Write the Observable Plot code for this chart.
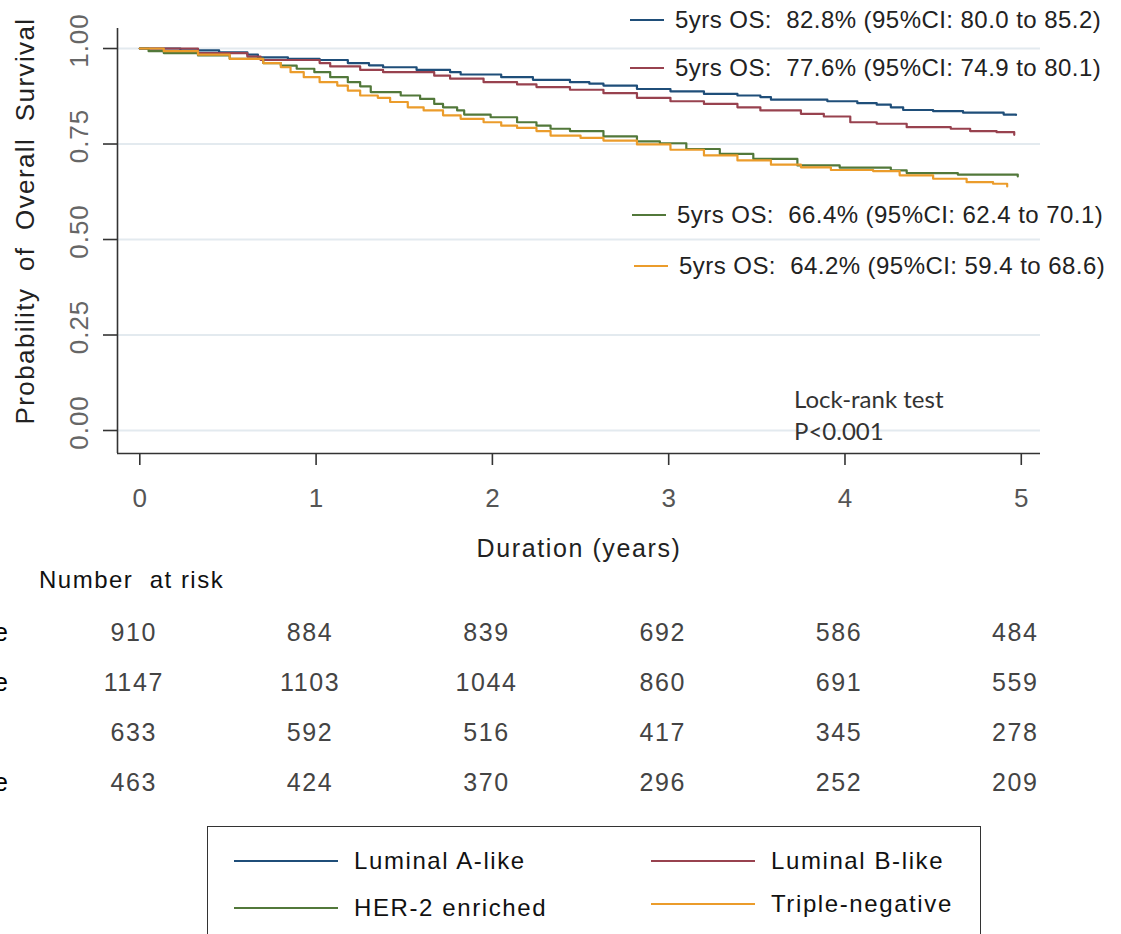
<!DOCTYPE html>
<html>
<head>
<meta charset="utf-8">
<script src="https://cdn.jsdelivr.net/npm/d3@7"></script>
<script src="https://cdn.jsdelivr.net/npm/@observablehq/plot@0.6"></script>
<style>
  html, body { margin: 0; padding: 0; background: #fff; }
  #root { position: relative; width: 1121px; height: 934px; overflow: hidden; background: #fff;
          font-family: "Liberation Sans", Arial, sans-serif; }
  #main, #risk { position: absolute; left: 0; }
  #main { top: 0; }
  #risk { top: 600px; }
  .annot { position: absolute; display: flex; align-items: center; height: 30px;
           font-size: 24px; color: #222; letter-spacing: 0.45px; white-space: pre; }
  .annot .sw { display: inline-block; width: 34px; height: 2px; margin-right: 11px; }
  #lockrank { position: absolute; left: 794px; top: 383px; font-family: Lato, "Open Sans", sans-serif;
              font-size: 24px; line-height: 32px; color: #333; }
  #nrisk { position: absolute; left: 39px; top: 566px; font-size: 24px; letter-spacing: 1.5px;
           color: #111; white-space: pre; }
  #legend { position: absolute; left: 207px; top: 826px; width: 772px; height: 140px;
            border: 1.5px solid #333; background: #fff; }
  .lg { position: absolute; display: flex; align-items: center; height: 30px; font-size: 24px;
        letter-spacing: 1.6px; color: #111; white-space: pre; }
  .lg .sw { display: inline-block; width: 104px; height: 2.5px; margin-right: 16px; }
</style>
</head>
<body>
<div id="root">
  <div id="main"></div>
  <div id="risk"></div>
  <div id="nrisk"></div>
  <div id="lockrank"></div>
  <div id="legend"></div>
</div>
<script>
// ---------------- data ----------------
const groups = ["Luminal A-like", "Luminal B-like", "HER-2 enriched", "Triple-negative"];
const colors = ["#1f4e79", "#98424f", "#52783a", "#eb9c2b"];

// Kaplan-Meier estimates (time in years, survival probability)
const lumA_t = [0, 0.23, 0.45, 0.61, 0.67, 0.84, 1.02, 1.18, 1.30, 1.38, 1.57, 1.76, 1.82, 2.05, 2.23, 2.44, 2.55, 2.63, 2.82, 3.01, 3.20, 3.39, 3.52, 3.58, 3.90, 4.07, 4.18, 4.26, 4.33, 4.50, 4.67, 4.90, 4.97];
const lumA_s = [1.000, 0.995, 0.990, 0.984, 0.977, 0.973, 0.970, 0.962, 0.956, 0.951, 0.944, 0.938, 0.932, 0.925, 0.918, 0.912, 0.908, 0.903, 0.894, 0.888, 0.881, 0.877, 0.873, 0.866, 0.862, 0.857, 0.853, 0.846, 0.839, 0.836, 0.832, 0.827, 0.826];

const lumB_t = [0, 0.33, 0.61, 0.685, 1.02, 1.08, 1.25, 1.38, 1.67, 1.76, 1.95, 2.14, 2.25, 2.44, 2.63, 2.82, 3.01, 3.20, 3.39, 3.52, 3.75, 3.88, 4.03, 4.18, 4.35, 4.60, 4.71, 4.86, 4.96];
const lumB_s = [1.000, 0.988, 0.979, 0.970, 0.962, 0.953, 0.944, 0.938, 0.929, 0.921, 0.912, 0.906, 0.899, 0.892, 0.883, 0.871, 0.862, 0.855, 0.846, 0.838, 0.829, 0.822, 0.807, 0.803, 0.794, 0.790, 0.784, 0.781, 0.774];

const her2_t = [0, 0.05, 0.136, 0.33, 0.51, 0.70, 0.80, 0.89, 0.99, 1.08, 1.18, 1.25, 1.31, 1.48, 1.59, 1.67, 1.72, 1.80, 1.84, 1.99, 2.14, 2.25, 2.33, 2.44, 2.63, 2.82, 2.95, 3.10, 3.29, 3.48, 3.73, 3.97, 4.26, 4.35, 4.64, 4.98];
const her2_s = [1.000, 0.993, 0.988, 0.982, 0.973, 0.962, 0.955, 0.947, 0.938, 0.925, 0.912, 0.901, 0.886, 0.877, 0.868, 0.855, 0.846, 0.838, 0.827, 0.820, 0.807, 0.798, 0.790, 0.784, 0.770, 0.757, 0.752, 0.737, 0.724, 0.711, 0.694, 0.688, 0.681, 0.674, 0.670, 0.665];

const tneg_t = [0, 0.136, 0.33, 0.51, 0.70, 0.80, 0.855, 0.93, 1.02, 1.12, 1.18, 1.25, 1.35, 1.42, 1.52, 1.61, 1.72, 1.82, 1.95, 2.05, 2.14, 2.25, 2.33, 2.50, 2.63, 2.82, 3.01, 3.20, 3.39, 3.58, 3.75, 3.92, 4.16, 4.31, 4.50, 4.69, 4.84, 4.92];
const tneg_s = [1.000, 0.993, 0.984, 0.973, 0.962, 0.951, 0.938, 0.925, 0.912, 0.903, 0.890, 0.877, 0.871, 0.860, 0.846, 0.838, 0.825, 0.816, 0.807, 0.798, 0.792, 0.784, 0.772, 0.766, 0.759, 0.749, 0.735, 0.720, 0.707, 0.696, 0.689, 0.682, 0.679, 0.668, 0.659, 0.650, 0.646, 0.639];

// Number at risk
const riskTimes = [0, 1, 2, 3, 4, 5];
const riskLumA = [910, 884, 839, 692, 586, 484];
const riskLumB = [1147, 1103, 1044, 860, 691, 559];
const riskHer2 = [633, 592, 516, 417, 345, 278];
const riskTneg = [463, 424, 370, 296, 252, 209];

// 5-year OS annotations
const os5 = [82.8, 77.6, 66.4, 64.2];
const ciLow = [80.0, 74.9, 62.4, 59.4];
const ciHigh = [85.2, 80.1, 70.1, 68.6];

// axes
const xTicks = [0, 1, 2, 3, 4, 5];
const yTicks = [0, 0.25, 0.5, 0.75, 1];
const xTitle = "Duration (years)";
const yTitle = "Probability of Overall Survival";
const testLines = ["Lock-rank test", "P<0.001"];
const riskTitle = "Number  at risk";

// ---------------- build tables ----------------
const seriesT = [lumA_t, lumB_t, her2_t, tneg_t];
const seriesS = [lumA_s, lumB_s, her2_s, tneg_s];
const km = [];
groups.forEach((g, i) => seriesT[i].forEach((t, j) => km.push({group: g, t, s: seriesS[i][j]})));

const riskRows = [riskLumA, riskLumB, riskHer2, riskTneg];
const risk = [];
groups.forEach((g, i) => riskTimes.forEach((t, j) => risk.push({group: g, t, n: riskRows[i][j]})));

const xDomain = [-0.1265, 5.109];
const yDomain = [-0.0602, 1.0524];
const font = "'Liberation Sans', Arial, sans-serif";

// ---------------- main plot ----------------
const main = Plot.plot({
  width: 1121, height: 560,
  marginLeft: 117, marginRight: 81, marginTop: 28, marginBottom: 107,
  x: {domain: xDomain},
  y: {domain: yDomain},
  color: {domain: groups, range: colors},
  style: {fontFamily: font, background: "transparent", overflow: "visible"},
  marks: [
    Plot.ruleY(yTicks, {stroke: "#e3eaef", strokeWidth: 2}),
    Plot.line(km, {x: "t", y: "s", z: "group", stroke: "group", curve: "step-after", strokeWidth: 2.2}),
    Plot.ruleX([xDomain[0]], {stroke: "#333", strokeWidth: 1.6}),
    Plot.ruleY([yDomain[0]], {stroke: "#333", strokeWidth: 1.6}),
    Plot.axisX({ticks: xTicks, tickFormat: "d", tickSize: 12, tickPadding: 23, fontSize: 26, fill: "#555",
                stroke: "#333", strokeWidth: 1.6, label: null}),
    Plot.axisY({ticks: yTicks, tickSize: 14, tickFormat: () => "", stroke: "#333", strokeWidth: 1.6, label: null}),
    Plot.text(yTicks, {x: xDomain[0], y: d => d, text: d => d.toFixed(2), rotate: -90,
                       dx: -38, dy: -8, fontSize: 26, fill: "#666", textAnchor: "middle", lineAnchor: "middle"}),
    Plot.text([yTitle], {frameAnchor: "left", dx: -92, dy: -20, rotate: -90, fontSize: 26, fill: "#222",
                         textAnchor: "middle", lineAnchor: "middle"}),
    Plot.text([xTitle], {frameAnchor: "bottom", dy: 95, fontSize: 25, fill: "#222",
                         textAnchor: "middle", lineAnchor: "middle"})
  ]
});
d3.select(main).selectAll("text").each(function() {
  const t = this.textContent;
  if (t === yTitle) d3.select(this).attr("letter-spacing", "1.4px").attr("word-spacing", "8px");
  else if (t === xTitle) d3.select(this).attr("letter-spacing", "1.6px");
  else if (yTicks.map(d => d.toFixed(2)).includes(t)) d3.select(this).attr("letter-spacing", "1px");
});
document.getElementById("main").appendChild(main);

// ---------------- risk table ----------------
const labelRows = groups.filter(g => g !== "HER-2 enriched");
const riskPlot = Plot.plot({
  width: 1121, height: 200,
  marginLeft: 117, marginRight: 81, marginTop: 32, marginBottom: 18,
  x: {domain: xDomain, axis: null},
  y: {type: "point", domain: groups, padding: 0, axis: null},
  style: {fontFamily: font, background: "transparent", overflow: "visible"},
  marks: [
    Plot.text(risk, {x: "t", y: "group", text: d => String(d.n), dx: -6, fontSize: 25, fill: "#444",
                     textAnchor: "middle", lineAnchor: "middle"}),
    Plot.text(labelRows, {frameAnchor: "left", y: d => d, dx: -108, text: d => d, fontSize: 25,
                          fill: "#000", textAnchor: "end", lineAnchor: "middle"})
  ]
});
d3.select(riskPlot).selectAll("text").attr("letter-spacing", "1.6px");
document.getElementById("risk").appendChild(riskPlot);

document.getElementById("nrisk").textContent = riskTitle;

// ---------------- annotations ----------------
const root = document.getElementById("root");
const annTop = [5, 53, 200, 251];
const annLeft = [630, 630, 632, 634];
groups.forEach((g, i) => {
  const row = document.createElement("div");
  row.className = "annot";
  row.style.top = annTop[i] + "px";
  row.style.left = annLeft[i] + "px";
  const sw = document.createElement("span");
  sw.className = "sw";
  sw.style.background = colors[i];
  row.appendChild(sw);
  const tx = document.createElement("span");
  tx.textContent = `5yrs OS:  ${os5[i].toFixed(1)}% (95%CI: ${ciLow[i].toFixed(1)} to ${ciHigh[i].toFixed(1)})`;
  row.appendChild(tx);
  root.appendChild(row);
});

document.getElementById("lockrank").innerHTML = testLines.join("<br>").replace("<0", "&lt;0");

// ---------------- legend ----------------
const legend = document.getElementById("legend");
const lgPos = [[26, 19], [443, 19], [26, 66], [443, 62]];
groups.forEach((g, i) => {
  const item = document.createElement("div");
  item.className = "lg";
  item.style.left = lgPos[i][0] + "px";
  item.style.top = lgPos[i][1] + "px";
  const sw = document.createElement("span");
  sw.className = "sw";
  sw.style.background = colors[i];
  item.appendChild(sw);
  const tx = document.createElement("span");
  tx.textContent = g;
  item.appendChild(tx);
  legend.appendChild(item);
});
</script>
</body>
</html>
